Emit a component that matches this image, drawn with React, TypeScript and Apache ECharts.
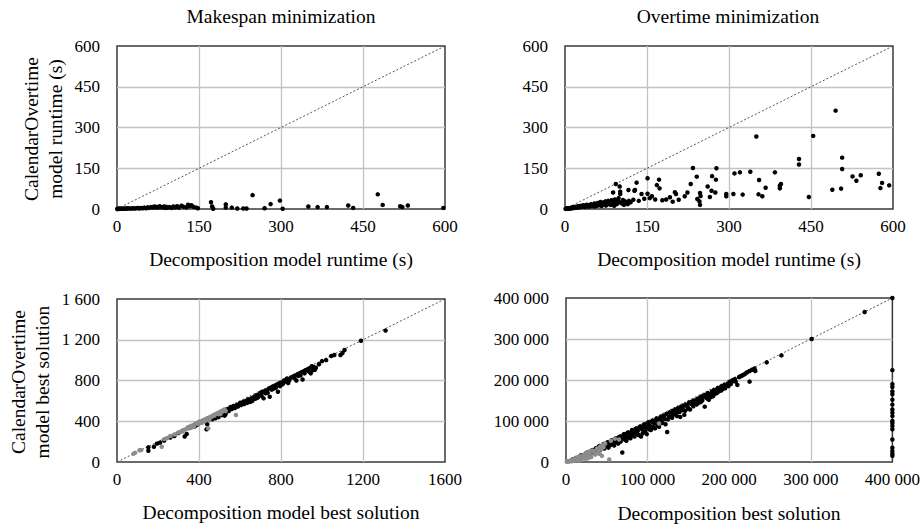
import React, { useEffect, useRef } from "react";
import * as echarts from "echarts";

// ---------- tick values ----------
const runtimeTicks = [0, 150, 300, 450, 600];
const makespanSolTicks = [0, 400, 800, 1200, 1600];
const overtimeSolTicks = [0, 100000, 200000, 300000, 400000];

// ---------- titles ----------
const panelTitles = ["Makespan minimization", "Overtime minimization"];
const xNameRuntime = "Decomposition model runtime (s)";
const xNameMakespanSol = "Decomposition model best solution";
const xNameOvertimeSol = "Decomposition best solution";
const yNameRuntime = "CalendarOvertime\nmodel runtime (s)";
const yNameSolution = "CalendarOvertime\nmodel best solution";

// ---------- data: makespan runtime (x = decomposition, y = CalendarOvertime) ----------
const makespanRuntime: number[][] = [
  [0.5, 0.2], [1, 0.5], [2, 0.3], [3, 0.8], [4, 0.4], [5, 1], [6, 0.6], [8, 1.2], [10, 0.8], [12, 1.5],
  [14, 1], [16, 2], [18, 1.2], [20, 2.5], [23, 1.5], [26, 2], [29, 3], [32, 2], [35, 2.5], [38, 3.5],
  [41, 2], [44, 4], [47, 3], [50, 5], [53, 3], [56, 6], [58, 4], [62, 7], [65, 5], [68, 9],
  [70, 6], [72, 8], [75, 5], [78, 10], [80, 7], [83, 6], [86, 9], [88, 4], [90, 8], [93, 5],
  [96, 7], [100, 4], [103, 9], [106, 6], [110, 10], [113, 5], [118, 12], [122, 8], [127, 6], [130, 16],
  [133, 10], [136, 14], [140, 8], [145, 5], [148, 3],
  [172, 25], [174, 9], [176, 1], [199, 17], [199, 5], [210, 5], [220, 2], [231, 2], [237, 2],
  [248, 51], [270, 3], [281, 18], [298, 31], [303, 1], [350, 9], [367, 7], [384, 7], [423, 13],
  [432, 4], [477, 54], [486, 15], [518, 10], [522, 7], [532, 13], [597, 4],
];

// ---------- data: overtime runtime ----------
const overtimeRuntime: number[][] = [
  [1, 0.5], [2, 1], [3, 1.5], [4, 1], [5, 2], [6, 2.5], [7, 1.5], [8, 3], [9, 2], [10, 4],
  [11, 3], [12, 5], [13, 3], [14, 6], [15, 4], [16, 5], [17, 7], [18, 4], [19, 6], [20, 8],
  [22, 5], [23, 9], [24, 7], [25, 10], [27, 6], [28, 11], [30, 8], [31, 12], [33, 9], [34, 14],
  [36, 10], [37, 7], [39, 13], [40, 16], [42, 11], [44, 8], [45, 15], [47, 12], [48, 18], [50, 10],
  [52, 14], [54, 20], [55, 9], [57, 16], [58, 12], [60, 22], [62, 14], [64, 18], [65, 26], [67, 11],
  [68, 20], [70, 24], [72, 16], [74, 28], [75, 13], [77, 22], [79, 30], [80, 18], [82, 25], [84, 15],
  [85, 32], [87, 20], [88, 61], [89, 27], [90, 12], [91, 35], [93, 92], [93, 22], [95, 18], [96, 28],
  [98, 40], [100, 83], [100, 25], [101, 64], [101, 55], [104, 20], [106, 33], [108, 15], [110, 28],
  [112, 22], [115, 18], [116, 70], [117, 30], [120, 25], [125, 34], [128, 70], [131, 97], [127, 67],
  [135, 30], [140, 55], [145, 38], [151, 113], [151, 56], [155, 40], [159, 47], [165, 35], [168, 88],
  [172, 108], [173, 76], [178, 32], [185, 35], [192, 43], [197, 27], [201, 62], [203, 55], [208, 34],
  [219, 47], [224, 61], [230, 92], [234, 151], [241, 119], [242, 37], [246, 28], [247, 15], [247, 59],
  [248, 48], [261, 83], [265, 44], [268, 67], [269, 121], [275, 61], [276, 108], [277, 150],
  [295, 55], [295, 47], [308, 55], [310, 131], [320, 135], [325, 53], [339, 137], [350, 267],
  [354, 54], [355, 107], [361, 47], [367, 78], [384, 135], [393, 86], [393, 76], [395, 92],
  [428, 184], [428, 164], [446, 44], [454, 269], [489, 71], [495, 362], [505, 75], [507, 189],
  [507, 147], [526, 120], [533, 104], [541, 124], [574, 130], [577, 77], [580, 96], [593, 87],
];

// ---------- data: makespan best solution ----------
const makespanSolBlack: number[][] = [
  [153, 111], [153, 144], [180, 150], [195, 180], [210, 190], [230, 210], [260, 240], [280, 255],
  [300, 285], [330, 250], [340, 275], [360, 340], [380, 350], [390, 365], [400, 380], [420, 400],
  [437, 321], [440, 370], [445, 420], [460, 440], [470, 450], [480, 430], [490, 470], [500, 480],
  [510, 460], [520, 500], [530, 470], [540, 520], [545, 500], [555, 540], [560, 520], [570, 550],
  [575, 530], [585, 560], [590, 545], [600, 580], [605, 560], [615, 590], [620, 570], [630, 600],
  [635, 580], [640, 615], [650, 590], [655, 625], [660, 600], [670, 640], [675, 620], [680, 655],
  [690, 640], [695, 665], [700, 680], [705, 650], [710, 690], [715, 625], [720, 695], [730, 705],
  [735, 680], [740, 720], [745, 640], [750, 730], [760, 740], [765, 720], [770, 750], [780, 760],
  [785, 690], [790, 770], [800, 780], [805, 760], [815, 800], [820, 790], [825, 810], [830, 820],
  [835, 775], [850, 830], [860, 840], [870, 850], [875, 800], [880, 860], [890, 870], [900, 880],
  [905, 810], [910, 890], [920, 900], [930, 910], [940, 920], [945, 870], [950, 940], [955, 900],
  [960, 930], [970, 925], [985, 960], [1000, 990], [1020, 1000], [1045, 1040], [1060, 1050],
  [1090, 1050], [1100, 1070], [1110, 1100], [1190, 1190], [1310, 1290],
  [465, 420], [485, 455], [495, 440], [515, 485], [525, 455], [535, 505], [550, 515], [565, 535],
  [580, 545], [595, 565], [610, 575], [625, 595], [645, 605], [665, 630], [685, 630], [700, 660],
  [725, 675], [755, 710], [775, 730], [795, 745], [810, 770], [840, 800], [865, 825], [885, 845],
  [895, 850], [915, 870], [935, 890], [955, 935], [965, 905],
];
const makespanSolGrey: number[][] = [
  [80, 80], [88, 90], [110, 115], [118, 118], [218, 150], [230, 225], [245, 235], [260, 255],
  [280, 270], [300, 290], [315, 305], [320, 300], [335, 320], [345, 340], [350, 330], [360, 355],
  [370, 360], [375, 345], [385, 380], [395, 375], [400, 395], [410, 400], [415, 385], [420, 410],
  [430, 420], [440, 430], [445, 330], [450, 410], [455, 445], [460, 440], [470, 460], [480, 470],
  [490, 480], [500, 490], [505, 470], [510, 500], [520, 510], [530, 500], [580, 462],
  [325, 315], [355, 345], [365, 340], [380, 370], [405, 385], [425, 400], [435, 410], [465, 450],
  [475, 455], [495, 470], [515, 495], [525, 515],
];

// ---------- data: overtime best solution ----------
const overtimeSolBlack: number[][] = [
  [8000, 6000], [12000, 10000], [16000, 12000], [20000, 15000], [25000, 22000], [30000, 25000],
  [35000, 30000], [38000, 33000], [40000, 36000], [42000, 30000], [45000, 40000], [48000, 38000],
  [50000, 45000], [52000, 35000], [55000, 50000], [57000, 45000], [60000, 55000], [62000, 48000],
  [65000, 60000], [67000, 50000], [69000, 23000], [70000, 64000], [72000, 55000], [75000, 70000],
  [77000, 60000], [80000, 74000], [82000, 65000], [85000, 80000], [87000, 70000], [90000, 84000],
  [92000, 62000], [95000, 88000], [97000, 75000], [100000, 93000], [102000, 80000], [105000, 98000],
  [107000, 85000], [110000, 102000], [112000, 90000], [115000, 106000], [118000, 95000],
  [120000, 112000], [124000, 73000], [125000, 104000], [128000, 118000], [130000, 108000],
  [133000, 122000], [136000, 112000], [138000, 128000], [140000, 110000], [143000, 132000],
  [146000, 125000], [148000, 137000], [150000, 130000], [153000, 142000], [156000, 136000],
  [158000, 147000], [160000, 140000], [163000, 152000], [165000, 146000], [168000, 157000],
  [170000, 135000], [172000, 160000], [175000, 152000], [178000, 166000], [180000, 160000],
  [183000, 172000], [185000, 168000], [188000, 178000], [190000, 174000], [193000, 183000],
  [196000, 186000], [200000, 192000], [203000, 195000], [205000, 200000], [210000, 188000],
  [212000, 207000], [218000, 213000], [225000, 196000], [225000, 222000], [231000, 228000],
  [246000, 243000], [264000, 260000], [301000, 300000], [366000, 366000], [400000, 400000],
  [18000, 16000], [22000, 17000], [27000, 24000], [28000, 20000], [32000, 29000], [33000, 24000],
  [36000, 28000], [37000, 34000], [41000, 39000], [43000, 35000], [46000, 44000], [47000, 33000],
  [49000, 42000], [51000, 48000], [53000, 47000], [54000, 41000], [56000, 53000], [58000, 50000],
  [59000, 40000], [61000, 58000], [63000, 55000], [64000, 45000], [66000, 62000], [68000, 58000],
  [71000, 68000], [73000, 62000], [74000, 52000], [76000, 72000], [78000, 66000], [79000, 58000],
  [81000, 78000], [83000, 72000], [84000, 62000], [86000, 82000], [88000, 76000], [89000, 66000],
  [91000, 87000], [93000, 80000], [94000, 70000], [96000, 92000], [98000, 84000], [99000, 68000],
  [101000, 97000], [103000, 88000], [104000, 78000], [106000, 101000], [108000, 94000],
  [109000, 82000], [111000, 106000], [113000, 98000], [114000, 86000], [116000, 110000],
  [117000, 102000], [119000, 113000], [121000, 105000], [122000, 92000], [123000, 117000],
  [126000, 110000], [127000, 121000], [129000, 112000], [131000, 125000], [132000, 116000],
  [134000, 128000], [135000, 120000], [137000, 131000], [139000, 122000], [141000, 135000],
  [142000, 126000], [144000, 138000], [145000, 115000], [147000, 140000], [149000, 134000],
  [151000, 145000], [152000, 128000], [154000, 147000], [155000, 140000], [157000, 150000],
  [159000, 143000], [161000, 154000], [162000, 144000], [164000, 156000], [166000, 160000],
  [167000, 150000], [169000, 162000], [171000, 164000], [173000, 155000], [174000, 168000],
  [176000, 162000], [177000, 158000], [179000, 172000], [181000, 175000], [182000, 165000],
  [184000, 176000], [186000, 180000], [187000, 172000], [189000, 182000], [191000, 185000],
  [192000, 178000], [194000, 188000], [195000, 180000], [198000, 191000], [199000, 185000],
  [201000, 196000], [202000, 190000], [204000, 198000], [207000, 202000], [208000, 196000],
  [214000, 209000], [216000, 211000], [220000, 216000], [222000, 219000], [228000, 225000],
  [232000, 222000],
  [400000, 224000], [400000, 190000], [400000, 183000], [400000, 172000], [400000, 165000],
  [400000, 152000], [400000, 140000], [400000, 128000], [400000, 120000], [400000, 112000],
  [400000, 100000], [400000, 95000], [400000, 88000], [400000, 80000], [400000, 55000],
  [400000, 35000], [400000, 27000], [400000, 20000], [400000, 15000],
];
const overtimeSolGrey: number[][] = [
  [1000, 500], [2000, 1500], [3000, 2000], [4000, 1000], [5000, 3000], [6000, 4000], [7000, 2000],
  [8000, 5000], [9000, 3000], [10000, 7000], [11000, 4000], [12000, 9000], [13000, 5000],
  [14000, 11000], [15000, 8000], [16000, 3000], [18000, 12000], [20000, 10000], [22000, 18000],
  [24000, 8000], [25000, 22000], [28000, 25000], [30000, 15000], [32000, 28000], [35000, 20000],
  [38000, 33000], [40000, 25000], [42000, 38000], [44000, 15000], [45000, 42000], [48000, 45000],
  [53000, 6000], [55000, 52000], [60000, 57000], [65000, 55000], [114000, 94000],
  [17000, 14000], [19000, 6000], [21000, 16000], [23000, 12000], [26000, 18000], [27000, 9000],
  [29000, 21000], [31000, 12000], [34000, 27000], [36000, 18000], [39000, 30000], [41000, 20000],
  [43000, 32000], [46000, 36000],
];

const FONT = "Liberation Serif";
const grids = [
  { left: 117, top: 46, width: 328, height: 163 },
  { left: 565, top: 46, width: 328, height: 163 },
  { left: 117, top: 299, width: 328, height: 163 },
  { left: 566, top: 298, width: 327, height: 164 },
];
const spaced = (v: number) => String(v).replace(/\B(?=(\d{3})+(?!\d))/g, " ");

function axis(ticks: number[], idx: number, isX: boolean, fmt: (v: number) => string) {
  return {
    type: "value",
    gridIndex: idx,
    min: ticks[0],
    max: ticks[ticks.length - 1],
    interval: ticks[1] - ticks[0],
    axisLine: { show: false },
    axisTick: { show: false },
    splitLine: {
      show: true,
      showMinLine: false,
      showMaxLine: false,
      lineStyle: { color: "#c2c2c2", width: 1.3 },
    },
    axisLabel: {
      fontFamily: FONT,
      fontSize: 17,
      color: "#000",
      margin: isX ? 9 : 17,
      formatter: fmt,
    },
  };
}

export default function App() {
  const ref = useRef<HTMLDivElement>(null);
  useEffect(() => {
    if (!ref.current) return;
    const chart = echarts.init(ref.current, undefined, { renderer: "svg" });
    const plain = (v: number) => String(v);
    const tickSets = [runtimeTicks, runtimeTicks, makespanSolTicks, overtimeSolTicks];
    const xFmt = [plain, plain, plain, spaced];
    const yFmt = [plain, plain, spaced, spaced];
    const diag = (i: number) => {
      const t = tickSets[i];
      return {
        type: "line",
        xAxisIndex: i,
        yAxisIndex: i,
        data: [[t[0], t[0]], [t[t.length - 1], t[t.length - 1]]],
        symbol: "none",
        silent: true,
        z: 1,
        lineStyle: { color: "#555", width: 1, type: [2, 2] },
      };
    };
    const sc = (i: number, data: number[][], color: string, z: number) => ({
      type: "scatter",
      xAxisIndex: i,
      yAxisIndex: i,
      data,
      symbolSize: 4.5,
      z,
      itemStyle: { color, opacity: 1 },
    });
    const txt = (text: string, x: number, y: number, rot = 0) => ({
      type: "text",
      x,
      y,
      rotation: rot,
      style: {
        text,
        fontFamily: FONT,
        fontSize: 19.5,
        lineHeight: 24,
        fill: "#000",
        textAlign: "center",
        textVerticalAlign: "middle",
      },
    });
    chart.setOption({
      animation: false,
      backgroundColor: "#fff",
      textStyle: { fontFamily: FONT },
      grid: grids.map((g) => ({
        ...g,
        show: true,
        borderColor: "#3a3a3a",
        borderWidth: 1.5,
        backgroundColor: "transparent",
      })),
      xAxis: tickSets.map((t, i) => axis(t, i, true, xFmt[i])),
      yAxis: tickSets.map((t, i) => axis(t, i, false, yFmt[i])),
      series: [
        diag(0), diag(1), diag(2), diag(3),
        sc(0, makespanRuntime, "#000", 3),
        sc(1, overtimeRuntime, "#000", 3),
        sc(2, makespanSolBlack, "#000", 3),
        sc(2, makespanSolGrey, "#8c8c8c", 4),
        sc(3, overtimeSolBlack, "#000", 3),
        sc(3, overtimeSolGrey, "#8c8c8c", 4),
      ],
      graphic: [
        txt(panelTitles[0], 281, 16),
        txt(panelTitles[1], 728, 16),
        txt(xNameRuntime, 281, 259),
        txt(xNameRuntime, 729, 259),
        txt(xNameMakespanSol, 281, 512),
        txt(xNameOvertimeSol, 729, 513),
        txt(yNameRuntime, 43, 129, Math.PI / 2),
        txt(yNameSolution, 30, 382, Math.PI / 2),
      ],
    });
    return () => chart.dispose();
  }, []);
  return (
    <div
      ref={ref}
      style={{ position: "fixed", left: 0, top: 0, width: 923, height: 525, background: "#fff" }}
    />
  );
}
